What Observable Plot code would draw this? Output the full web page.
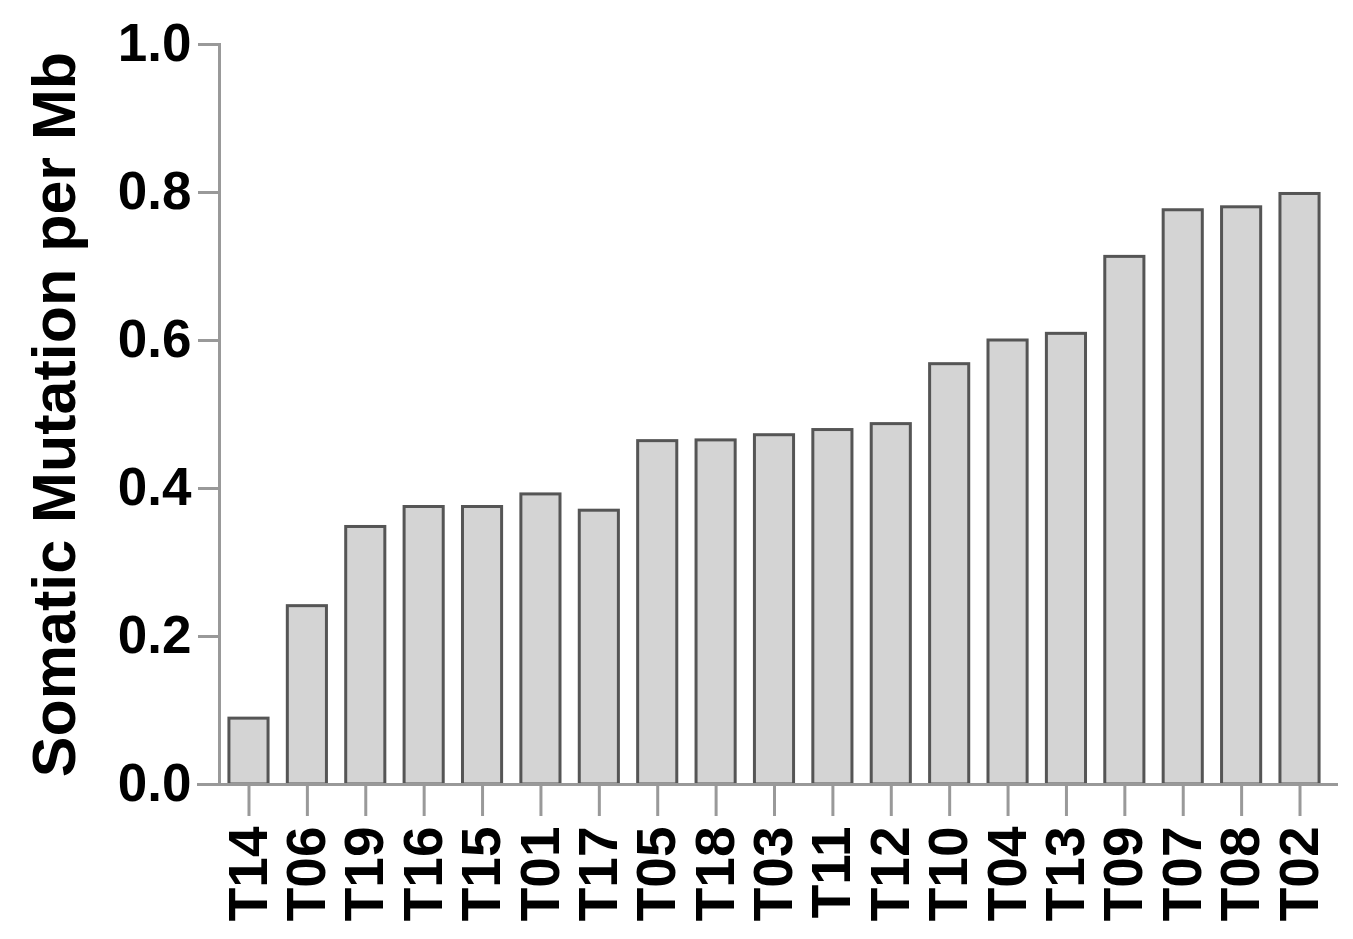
<!DOCTYPE html>
<html>
<head>
<meta charset="utf-8">
<script src="https://cdn.jsdelivr.net/npm/d3@7"></script>
<script src="https://cdn.jsdelivr.net/npm/@observablehq/plot@0.6"></script>
<style>
  html, body { margin: 0; padding: 0; background: #fff; }
  #chart svg { display: block; }
</style>
</head>
<body>
<div id="chart"></div>
<script>
const samples = ["T14","T06","T19","T16","T15","T01","T17","T05","T18","T03","T11","T12","T10","T04","T13","T09","T07","T08","T02"];
const mutationsPerMb = [0.089,0.241,0.348,0.375,0.375,0.392,0.370,0.464,0.465,0.472,0.479,0.487,0.568,0.600,0.609,0.713,0.776,0.780,0.798];
const yTicks = [0, 0.2, 0.4, 0.6, 0.8, 1.0];
const yLabel = "Somatic Mutation per Mb";

const data = samples.map((s, i) => ({sample: s, value: mutationsPerMb[i]}));
const axisColor = "#999";
const font = "'Liberation Sans', Arial, sans-serif";

const chart = Plot.plot({
  width: 1353,
  height: 939,
  marginLeft: 219,
  marginTop: 44,
  marginBottom: 155,
  marginRight: 24,
  style: {fontFamily: font, background: "#fff", color: "#000"},
  x: {domain: samples, paddingInner: 0.33, paddingOuter: 0.17, round: false},
  y: {domain: [0, 1]},
  marks: [
    Plot.barY(data, {x: "sample", y: "value", fill: "#d4d4d4", stroke: "#555", strokeWidth: 3}),
    Plot.frame({anchor: "left", stroke: axisColor, strokeWidth: 3}),
    Plot.ruleY([0], {stroke: axisColor, strokeWidth: 3, insetLeft: -22, insetRight: -9}),
    Plot.axisY(yTicks, {
      tickSize: 21, tickPadding: 7, tickFormat: d3.format(".1f"),
      stroke: axisColor, strokeWidth: 3,
      fontSize: 53, fontWeight: "bold", fill: "#000",
      label: yLabel, labelAnchor: "center", labelArrow: "none", labelOffset: 188
    }),
    Plot.axisX({
      tickSize: 32, tickPadding: 10, tickRotate: -90,
      stroke: axisColor, strokeWidth: 3,
      fontSize: 55, fontWeight: "bold", fill: "#000", label: null
    })
  ]
});
chart.querySelectorAll("[aria-label='y-axis label'] text").forEach(t => {
  t.setAttribute("font-size", "61");
  t.setAttribute("font-weight", "bold");
});
document.getElementById("chart").appendChild(chart);
</script>
</body>
</html>
